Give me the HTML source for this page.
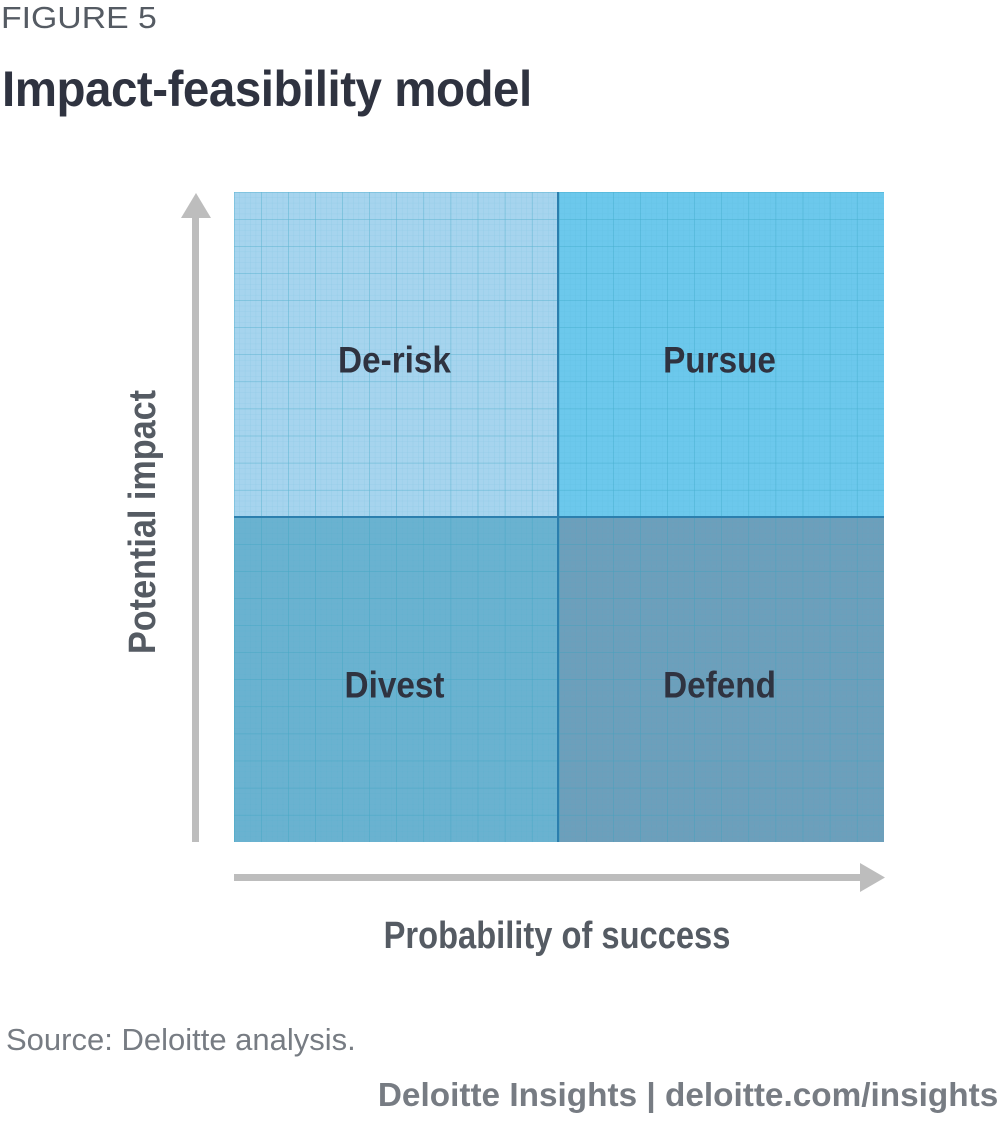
<!DOCTYPE html>
<html><head><meta charset="utf-8"><style>
body{margin:0;width:1000px;height:1125px;background:#fff;overflow:hidden;font-family:"Liberation Sans",sans-serif;position:relative}
.t{position:absolute;white-space:nowrap}
</style></head><body>
<div class="t" style="left:1px;top:0px;font-size:31px;color:#555b63;transform:scaleX(1.09);transform-origin:left top">FIGURE 5</div>
<div class="t" style="left:2px;top:60px;font-size:50px;font-weight:bold;color:#2f3340;transform:scaleX(0.95);transform-origin:left top;letter-spacing:-0.5px">Impact-feasibility model</div>
<svg id="chart" width="1000" height="1000" style="position:absolute;left:0;top:0">
<defs>
<pattern id="minor" width="5.4167" height="5.4167" patternUnits="userSpaceOnUse" x="234" y="192"><path d="M0 0H5.4167M0 0V5.4167" stroke="#3aa6c4" stroke-opacity="0.25" stroke-width="0.6" fill="none"/></pattern>
<pattern id="major" width="27.083" height="27.083" patternUnits="userSpaceOnUse" x="234" y="192"><path d="M0 0H27.083M0 0V27.083" stroke="#2fa0bd" stroke-opacity="0.55" stroke-width="1" fill="none"/></pattern>
</defs>
<g id="quads"></g>
<rect x="234" y="192" width="650" height="650" fill="url(#minor)"/>
<rect x="234" y="192" width="650" height="650" fill="url(#major)"/>
<line x1="558" y1="192" x2="558" y2="842" stroke="#2b7fae" stroke-width="2"/>
<line x1="234" y1="517" x2="884" y2="517" stroke="#2b7fae" stroke-width="2"/>
<g id="labels"></g>
<g>
<rect x="192" y="215" width="7" height="627" fill="#bdbdbd"/>
<polygon points="181,218 196,193 211,218" fill="#bdbdbd"/>
</g>
<g>
<rect x="234" y="874" width="630" height="7" fill="#bdbdbd"/>
<polygon points="860,863 885,877.5 860,892" fill="#bdbdbd"/>
</g>
<text transform="translate(155,522) rotate(-90) scale(0.9,1)" text-anchor="middle" font-size="38" font-weight="bold" fill="#555b63">Potential impact</text>
<text transform="translate(557,948) scale(0.86,1)" text-anchor="middle" font-size="38" font-weight="bold" fill="#555b63">Probability of success</text>
</svg>
<div class="t" style="left:6px;top:1022px;font-size:31px;color:#777c83">Source: Deloitte analysis.</div>
<div class="t" style="right:2px;top:1076px;font-size:33px;color:#777c83;font-weight:bold;transform:scaleX(1.01);transform-origin:right top">Deloitte Insights | deloitte.com/insights</div>
<script>
const quadNames=["De-risk","Pursue","Divest","Defend"];
const quadCols=[0,1,0,1];
const quadRows=[1,1,0,0];
const quadFills=["#a6d4ee","#6cc8ec","#6ab2d0","#6d9fbb"];
const x0=234,y0=192,size=650,half=size/2;
const ns="http://www.w3.org/2000/svg";
const qg=document.getElementById('quads'),lg=document.getElementById('labels');
quadNames.forEach((n,i)=>{
  const x=x0+quadCols[i]*half, y=y0+(1-quadRows[i])*half;
  const r=document.createElementNS(ns,'rect');
  r.setAttribute('x',x);r.setAttribute('y',y);r.setAttribute('width',half);r.setAttribute('height',half);r.setAttribute('fill',quadFills[i]);
  
  
  qg.appendChild(r);
  const t=document.createElementNS(ns,'text');
  t.setAttribute('transform',`translate(${x+half/2-2},${y+half/2+18}) scale(0.9,1)`);
  t.setAttribute('text-anchor','middle');t.setAttribute('font-size','37');t.setAttribute('font-weight','bold');t.setAttribute('fill','#2f3340');
  t.textContent=n;
  
  
  lg.appendChild(t);
});
</script>
</body></html>
